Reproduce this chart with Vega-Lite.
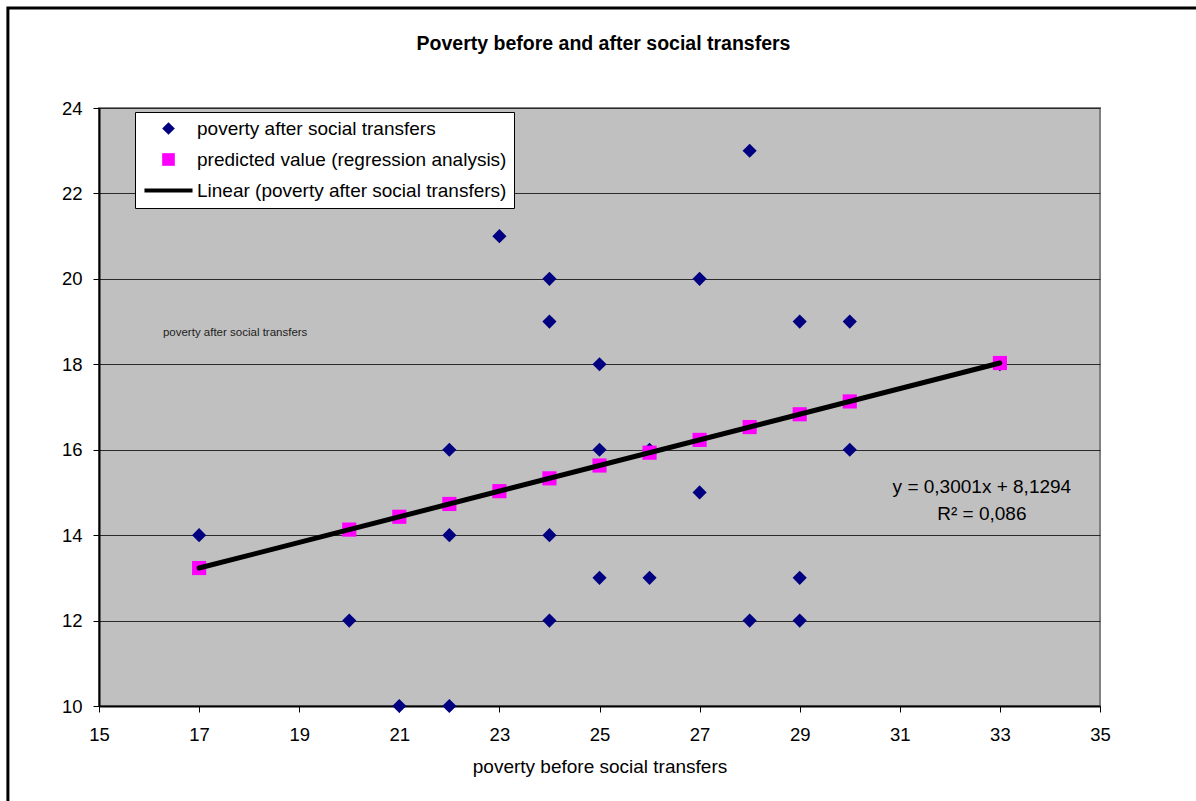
{
  "$schema": "https://vega.github.io/schema/vega-lite/v6.json",
  "width": 1001,
  "height": 598,
  "autosize": {"type": "none"},
  "padding": {"left": 99, "top": 108, "right": 96, "bottom": 95},
  "background": "white",
  "config": {
    "view": {"fill": "#C0C0C0", "stroke": "#808080", "strokeWidth": 2},
    "font": "Liberation Sans",
    "axis": {
      "labelFont": "Liberation Sans",
      "titleFont": "Liberation Sans",
      "labelFontSize": 18.5,
      "titleFontSize": 19,
      "labelColor": "black",
      "titleColor": "black",
      "titleFontWeight": "normal",
      "domainColor": "black",
      "domainWidth": 2,
      "tickColor": "black",
      "tickWidth": 1,
      "tickSize": 6,
      "labelFlush": false
    },
    "legend": {
      "orient": "none",
      "legendX": 36,
      "legendY": 4,
      "fillColor": "white",
      "strokeColor": "black",
      "strokeWidth": 1,
      "padding": 7,
      "symbolOffset": 17,
      "labelOffset": 19,
      "symbolSize": 160,
      "symbolStrokeWidth": 0,
      "labelFontSize": 19,
      "labelFont": "Liberation Sans",
      "labelColor": "black",
      "labelLimit": 500,
      "rowPadding": 11
    }
  },
  "layer": [
    {
      "data": {"values": [
        {"before": 17, "after": 14, "series": "poverty after social transfers"},
        {"before": 20, "after": 12, "series": "poverty after social transfers"},
        {"before": 21, "after": 10, "series": "poverty after social transfers"},
        {"before": 22, "after": 16, "series": "poverty after social transfers"},
        {"before": 22, "after": 14, "series": "poverty after social transfers"},
        {"before": 22, "after": 10, "series": "poverty after social transfers"},
        {"before": 23, "after": 21, "series": "poverty after social transfers"},
        {"before": 24, "after": 20, "series": "poverty after social transfers"},
        {"before": 24, "after": 19, "series": "poverty after social transfers"},
        {"before": 24, "after": 14, "series": "poverty after social transfers"},
        {"before": 24, "after": 12, "series": "poverty after social transfers"},
        {"before": 25, "after": 18, "series": "poverty after social transfers"},
        {"before": 25, "after": 16, "series": "poverty after social transfers"},
        {"before": 25, "after": 13, "series": "poverty after social transfers"},
        {"before": 26, "after": 16, "series": "poverty after social transfers"},
        {"before": 26, "after": 13, "series": "poverty after social transfers"},
        {"before": 27, "after": 20, "series": "poverty after social transfers"},
        {"before": 27, "after": 15, "series": "poverty after social transfers"},
        {"before": 28, "after": 23, "series": "poverty after social transfers"},
        {"before": 28, "after": 12, "series": "poverty after social transfers"},
        {"before": 29, "after": 19, "series": "poverty after social transfers"},
        {"before": 29, "after": 13, "series": "poverty after social transfers"},
        {"before": 29, "after": 12, "series": "poverty after social transfers"},
        {"before": 30, "after": 19, "series": "poverty after social transfers"},
        {"before": 30, "after": 16, "series": "poverty after social transfers"},
        {"before": 33, "after": 18, "series": "poverty after social transfers"},
        {"before": 17, "after": 13.23, "series": "predicted value (regression analysis)"},
        {"before": 20, "after": 14.13, "series": "predicted value (regression analysis)"},
        {"before": 21, "after": 14.43, "series": "predicted value (regression analysis)"},
        {"before": 22, "after": 14.73, "series": "predicted value (regression analysis)"},
        {"before": 23, "after": 15.03, "series": "predicted value (regression analysis)"},
        {"before": 24, "after": 15.33, "series": "predicted value (regression analysis)"},
        {"before": 25, "after": 15.63, "series": "predicted value (regression analysis)"},
        {"before": 26, "after": 15.93, "series": "predicted value (regression analysis)"},
        {"before": 27, "after": 16.23, "series": "predicted value (regression analysis)"},
        {"before": 28, "after": 16.53, "series": "predicted value (regression analysis)"},
        {"before": 29, "after": 16.83, "series": "predicted value (regression analysis)"},
        {"before": 30, "after": 17.13, "series": "predicted value (regression analysis)"},
        {"before": 33, "after": 18.03, "series": "predicted value (regression analysis)"}
      ]},
      "mark": {"type": "point", "filled": true, "opacity": 1, "size": 200, "strokeWidth": 0},
      "encoding": {
        "x": {
          "field": "before", "type": "quantitative",
          "scale": {"domain": [15, 35], "nice": false, "zero": false},
          "axis": {"values": [15, 17, 19, 21, 23, 25, 27, 29, 31, 33, 35], "grid": false, "title": "poverty before social transfers", "labelPadding": 13, "titlePadding": 14}
        },
        "y": {
          "field": "after", "type": "quantitative",
          "scale": {"domain": [10, 24], "nice": false, "zero": false},
          "axis": {"values": [10, 12, 14, 16, 18, 20, 22, 24], "grid": true, "gridColor": "#2a2a2a", "gridWidth": 1, "title": null, "labelPadding": 11}
        },
        "color": {
          "field": "series", "type": "nominal", "title": null,
          "scale": {
            "domain": ["poverty after social transfers", "predicted value (regression analysis)", "Linear (poverty after social transfers)"],
            "range": ["#000080", "#FF00FF", "#000000"]
          }
        },
        "shape": {
          "field": "series", "type": "nominal", "title": null,
          "scale": {
            "domain": ["poverty after social transfers", "predicted value (regression analysis)", "Linear (poverty after social transfers)"],
            "range": ["diamond", "square", "M-3.8,-0.33L3.8,-0.33L3.8,0.33L-3.8,0.33Z"]
          }
        }
      }
    },
    {
      "data": {"values": [{"before": 17, "after": 13.23}, {"before": 33, "after": 18.03}]},
      "mark": {"type": "line", "color": "black", "strokeWidth": 5, "strokeCap": "round"},
      "encoding": {
        "x": {"field": "before", "type": "quantitative"},
        "y": {"field": "after", "type": "quantitative"}
      }
    },
    {
      "data": {"values": [
        {"before": 32.64, "after": 15.13, "label": "y = 0,3001x + 8,1294"},
        {"before": 32.64, "after": 14.5, "label": "R² = 0,086"}
      ]},
      "mark": {"type": "text", "fontSize": 19, "font": "Liberation Sans", "color": "black", "align": "center", "baseline": "middle"},
      "encoding": {
        "x": {"field": "before", "type": "quantitative"},
        "y": {"field": "after", "type": "quantitative"},
        "text": {"field": "label"}
      }
    },
    {
      "data": {"values": [{"before": 17.72, "after": 18.73, "label": "poverty after social transfers"}]},
      "mark": {"type": "text", "fontSize": 11.5, "font": "Liberation Sans", "color": "#222222", "align": "center", "baseline": "middle"},
      "encoding": {
        "x": {"field": "before", "type": "quantitative"},
        "y": {"field": "after", "type": "quantitative"},
        "text": {"field": "label"}
      }
    },
    {
      "data": {"values": [{"before": 25.08, "after": 25.5, "label": "Poverty before and after social transfers"}]},
      "mark": {"type": "text", "fontSize": 19.5, "fontWeight": "bold", "font": "Liberation Sans", "color": "black", "align": "center", "baseline": "middle", "clip": false},
      "encoding": {
        "x": {"field": "before", "type": "quantitative"},
        "y": {"field": "after", "type": "quantitative"},
        "text": {"field": "label"}
      }
    },
    {
      "data": {"values": [{}]},
      "mark": {"type": "rect", "filled": false, "stroke": "black", "strokeWidth": 3, "fill": "transparent"},
      "encoding": {
        "x": {"datum": 13.18, "type": "quantitative"},
        "x2": {"datum": 37.6},
        "y": {"datum": 26.34, "type": "quantitative"},
        "y2": {"datum": 7.5}
      }
    }
  ]
}
